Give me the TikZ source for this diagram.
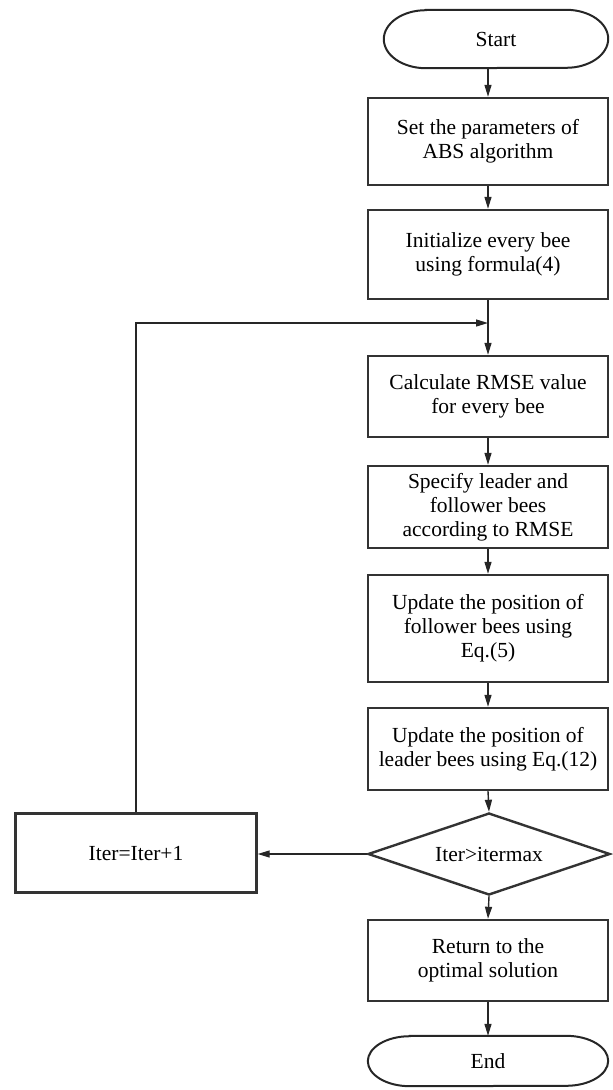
\documentclass[tikz,border=0pt]{standalone}
\usepackage{fontspec}
\setmainfont{Liberation Serif}
\usetikzlibrary{arrows.meta,shapes.geometric}
\begin{document}
\begin{tikzpicture}[x=1pt,y=1pt,
  every node/.style={font=\fontsize{21.5}{24}\selectfont, text=black},
  procbox/.style={draw=black!80, line width=2.4pt, rectangle, minimum width=240pt, align=center, inner sep=0pt},
  termbox/.style={draw=none, rectangle, minimum width=240pt, minimum height=52pt, inner sep=0pt},
  decbox/.style={draw=black!80, line width=2.4pt, diamond, aspect=2.95, minimum width=242pt, minimum height=82pt, inner sep=0pt},
  flow/.style={draw=black!85, line width=1.4pt, -{Triangle[length=12pt,width=7pt]}},
  term/.style={draw=black!85, line width=2pt}
]
\useasboundingbox (0,0) rectangle (613,-1090);

\node[termbox, minimum width=224pt, minimum height=58pt] (start) at (496,-39) {Start};
\node[procbox, minimum height=87pt] (b1) at (488,-141.5) {Set the parameters of\\ABS algorithm};
\node[procbox, minimum height=89pt] (b2) at (488,-254.5) {Initialize every bee\\using formula(4)};
\node[procbox, minimum height=81pt] (b3) at (488,-396.5) {Calculate RMSE value\\for every bee};
\node[procbox, minimum height=82pt] (b4) at (488,-507) {Specify leader and\\follower bees\\according to RMSE};
\node[procbox, minimum height=107pt] (b5) at (488,-628.5) {Update the position of\\follower bees using\\Eq.(5)};
\node[procbox, minimum height=82pt] (b6) at (488,-749) {Update the position of\\leader bees using Eq.(12)};
\node[decbox] (dec) at (489,-854) {Iter>itermax};
\node[procbox, minimum width=241pt, minimum height=79pt] (iter) at (136,-853) {Iter=Iter+1};
\node[procbox, minimum height=81pt] (b7) at (488,-960.5) {Return to the\\optimal solution};
\node[termbox, minimum height=50pt] (stop) at (488,-1061) {End};

% terminal outlines (stadium with elliptical ends)
\draw[term] ([xshift=42pt]start.north west) -- ([xshift=-42pt]start.north east)
  arc[start angle=90, end angle=-90, x radius=42pt, y radius=29pt]
  -- ([xshift=42pt]start.south west)
  arc[start angle=270, end angle=90, x radius=42pt, y radius=29pt] -- cycle;
\draw[term] ([xshift=42pt]stop.north west) -- ([xshift=-42pt]stop.north east)
  arc[start angle=90, end angle=-90, x radius=42pt, y radius=25pt]
  -- ([xshift=42pt]stop.south west)
  arc[start angle=270, end angle=90, x radius=42pt, y radius=25pt] -- cycle;

\coordinate (j) at (488,-323);

\draw[flow] (start.south -| b1.north) -- (b1.north);
\draw[flow] (b1) -- (b2);
\draw[flow] (b2) -- (b3);
\draw[flow] (iter.north) |- (j);
\draw[flow] (b3) -- (b4);
\draw[flow] (b4) -- (b5);
\draw[flow] (b5) -- (b6);
\draw[flow] (b6.south) -- (dec.north);
\draw[flow] (dec.west) -- (dec.west -| iter.east);
\draw[flow] (dec.south) -- (b7.north);
\draw[flow] (b7.south) -- (stop.north);
\end{tikzpicture}
\end{document}
